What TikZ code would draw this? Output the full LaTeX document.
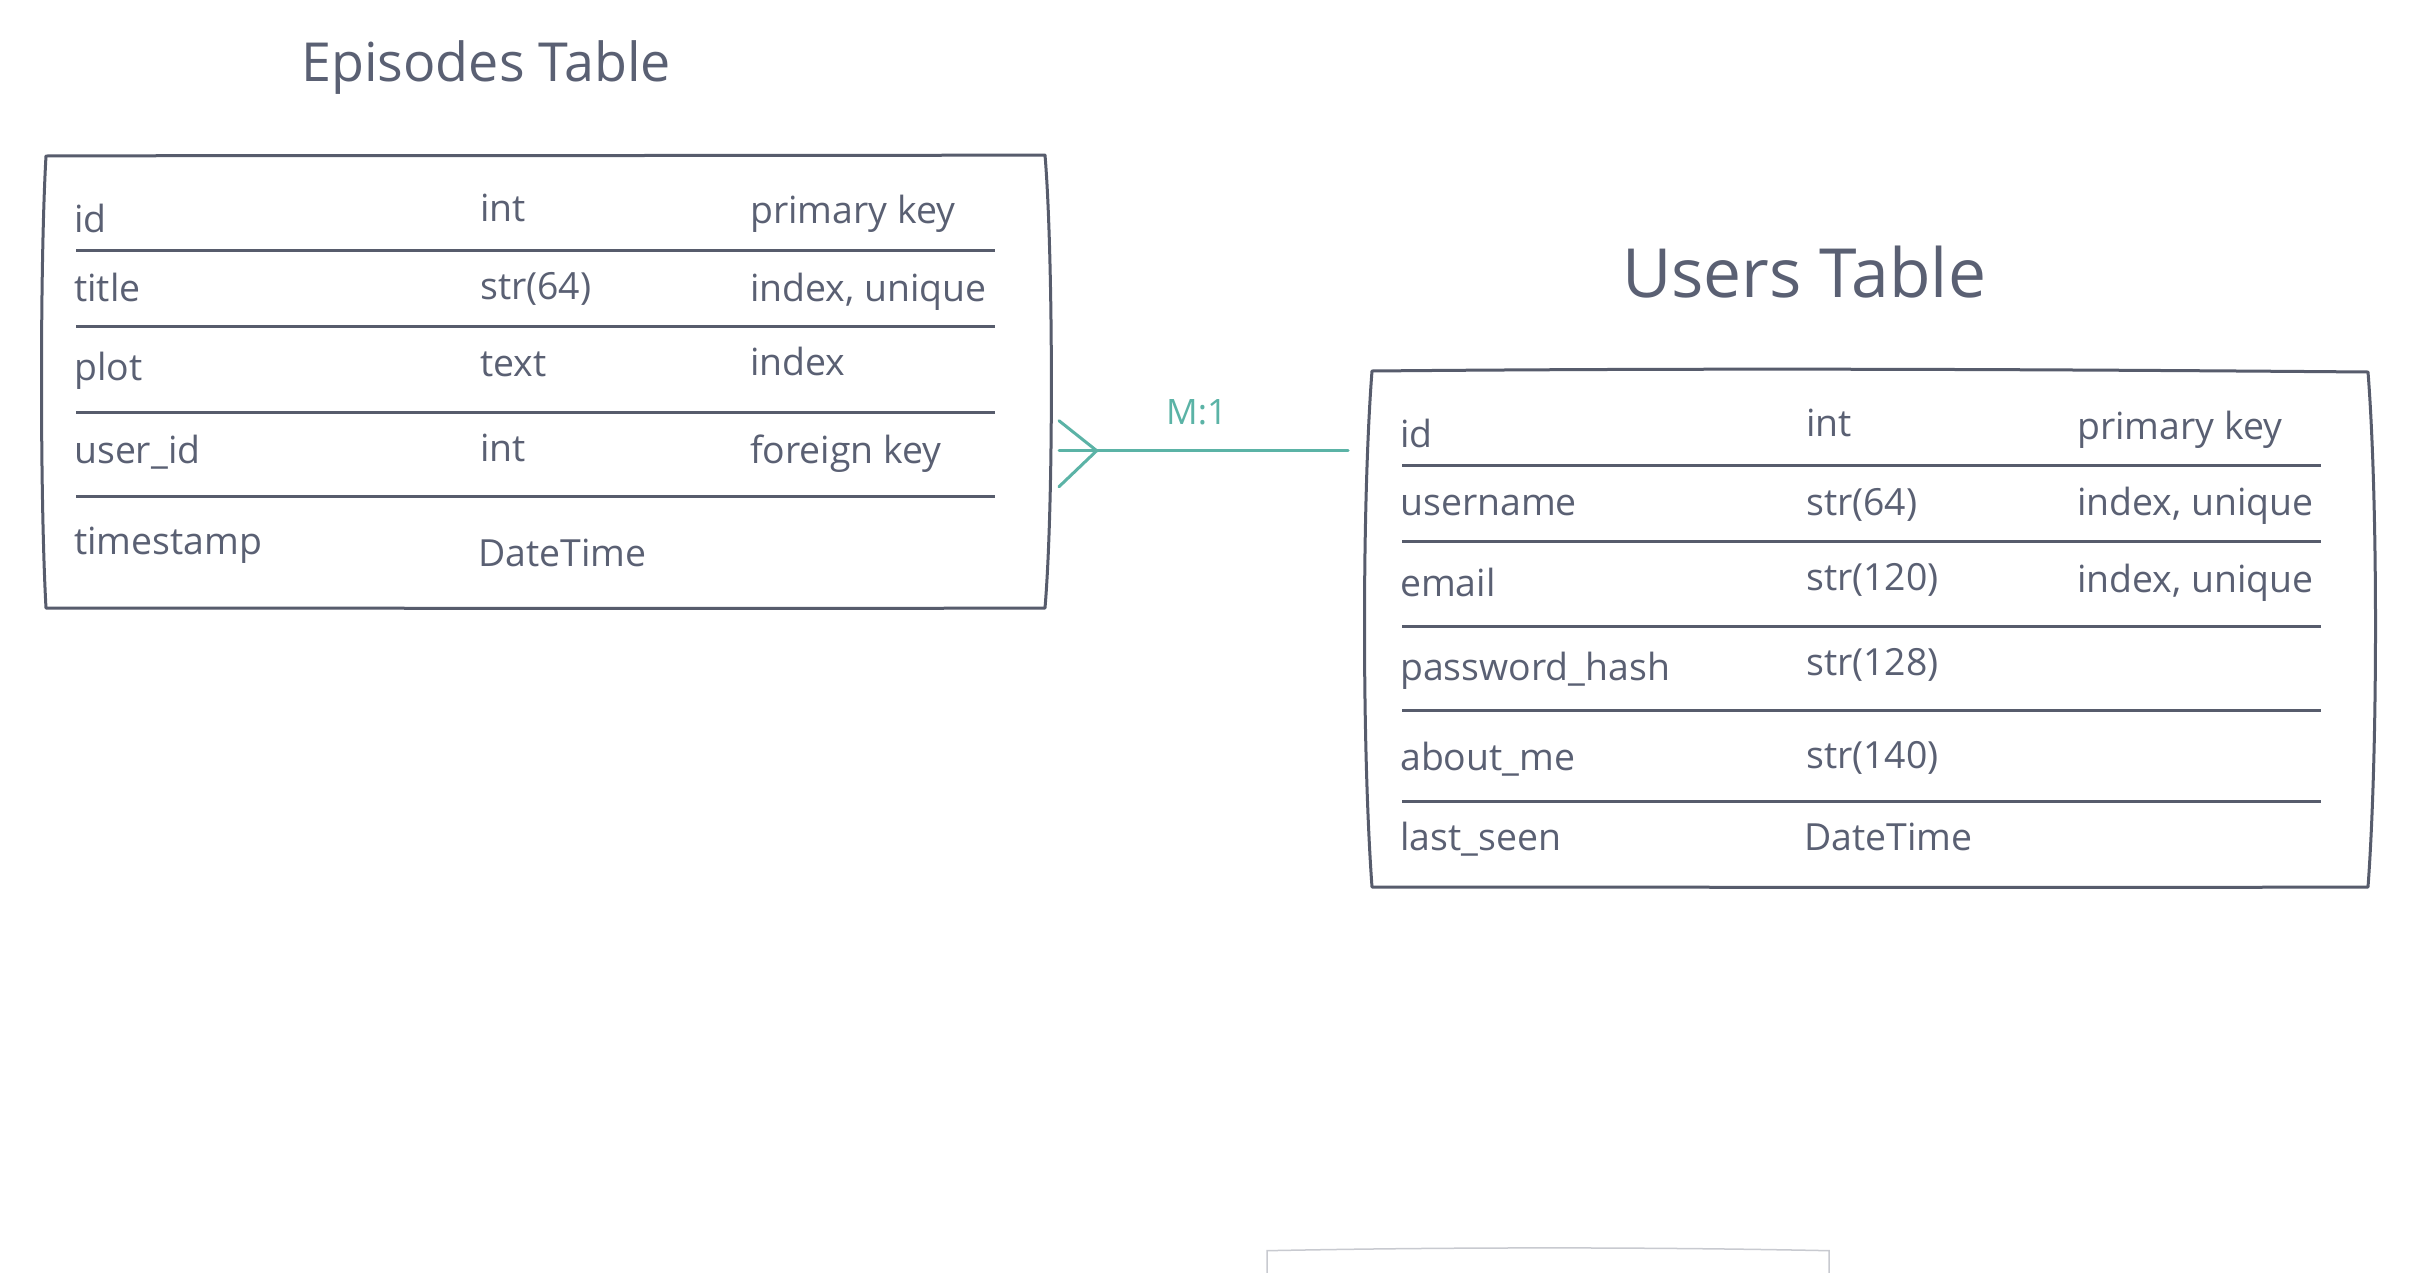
\documentclass[tikz,border=0pt]{standalone}
\usepackage{fontspec}
\setmainfont{Open Sans}
\definecolor{txt}{HTML}{5A6073}
\definecolor{ln}{HTML}{575C6C}
\definecolor{relc}{HTML}{5BB3A6}
\definecolor{faint}{HTML}{C8CAD0}
\begin{document}
\begin{tikzpicture}[x=1pt,y=-1pt,
  cell/.style={anchor=base west, inner sep=0pt, text=txt, font=\fontsize{37.4}{44}\selectfont},
  ttl/.style={anchor=base west, inner sep=0pt, text=txt},
  rowline/.style={draw=ln, line width=3pt},
  border/.style={draw=ln, line width=3pt, line join=round},
  rel/.style={draw=relc, line width=3pt, line cap=round, line join=round},
  relabel/.style={anchor=base west, inner sep=0pt, text=relc, font=\fontsize{35}{40}\selectfont}]
\useasboundingbox[fill=white] (0,0) rectangle (2418,1272);

% titles
\node[ttl, font=\fontsize{53.8}{60}\selectfont] (eptitle) at (301,81) {Episodes Table};
\node[ttl, font=\fontsize{67.8}{76}\selectfont] (ustitle) at (1622,297) {Users Table};

% Episodes table frame
\node[inner sep=0pt, minimum width=1006pt, minimum height=452pt] (epbox) at (546,382) {};
\draw[border] (46,156) .. controls (400,155) and (700,156) .. (1045,155)
  .. controls (1053,250) and (1054,500) .. (1045,608)
  .. controls (700,609) and (400,608) .. (46,608)
  .. controls (40,500) and (40,260) .. (46,156) -- cycle;
\foreach \y in {250.7,326.7,412.7,496} \draw[rowline] (76,\y) -- (994.5,\y);

\node[cell] (e1a) at (74,232.7) {id};
\node[cell] (e1b) at (480,221.7) {int};
\node[cell] (e1c) at (750,223) {primary key};
\node[cell] (e2a) at (74,301) {title};
\node[cell] (e2b) at (480,299.3) {str(64)};
\node[cell] (e2c) at (750,301) {index, unique};
\node[cell] (e3a) at (74,380.7) {plot};
\node[cell] (e3b) at (480,376) {text};
\node[cell] (e3c) at (750,375) {index};
\node[cell] (e4a) at (74,463) {user\_id};
\node[cell] (e4b) at (480,461.7) {int};
\node[cell] (e4c) at (750,463) {foreign key};
\node[cell] (e5a) at (74,554) {timestamp};
\node[cell] (e5b) at (478,566) {DateTime};

% Users table frame
\node[inner sep=0pt, minimum width=996pt, minimum height=516pt] (usbox) at (1870,629) {};
\draw[border] (1372,371) .. controls (1700,368) and (2000,369) .. (2368,372)
  .. controls (2378,500) and (2378,750) .. (2368,887)
  .. controls (2000,888) and (1700,887) .. (1372,887)
  .. controls (1362,750) and (1362,500) .. (1372,371) -- cycle;
\foreach \y in {465.3,541,626.7,710,801} \draw[rowline] (1402,\y) -- (2321,\y);

\node[cell] (u1a) at (1400,447) {id};
\node[cell] (u1b) at (1806,436) {int};
\node[cell] (u1c) at (2077,439) {primary key};
\node[cell] (u2a) at (1400,515) {username};
\node[cell] (u2b) at (1806,515) {str(64)};
\node[cell] (u2c) at (2077,515) {index, unique};
\node[cell] (u3a) at (1400,596) {email};
\node[cell] (u3b) at (1806,590) {str(120)};
\node[cell] (u3c) at (2077,592) {index, unique};
\node[cell] (u4a) at (1400,680) {password\_hash};
\node[cell] (u4b) at (1806,675) {str(128)};
\node[cell] (u5a) at (1400,770) {about\_me};
\node[cell] (u5b) at (1806,768) {str(140)};
\node[cell] (u6a) at (1400,850) {last\_seen};
\node[cell] (u6b) at (1804,850) {DateTime};

% relation M:1
\coordinate (fkL) at (1059,450.7);
\coordinate (fkR) at (1348,450.7);
\coordinate (crowApex) at (1096.7,450.7);
\coordinate (crowUp) at (1059,420.7);
\coordinate (crowDown) at (1059,486.7);
\draw[rel] (fkL) -- (fkR);
\draw[rel] (crowUp) -- (crowApex) -- (crowDown);
\node[relabel] (rellabel) at (1166,424) {M:1};

% partially visible box at bottom
\draw[draw=faint, line width=1.5pt] (1267,1274) -- (1267,1250.7)
  .. controls (1450,1247) and (1650,1247) .. (1829,1250.7) -- (1829,1274);
\end{tikzpicture}
\end{document}
